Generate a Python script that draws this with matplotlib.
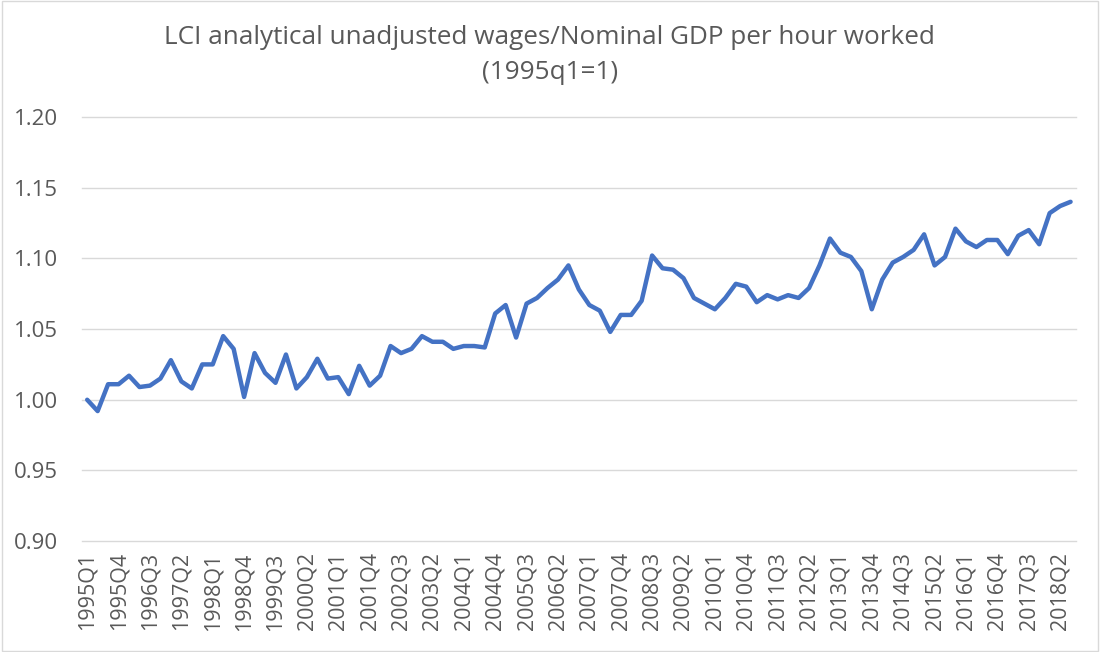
import matplotlib.pyplot as plt
from matplotlib.patches import Rectangle

# quarterly series, 1995Q1 .. 2018Q3 (1995q1 = 1)
years = list(range(1995, 2019))
ratio = [
    1.000, 0.992, 1.011, 1.011, 1.017, 1.009, 1.010, 1.015, 1.028, 1.013,
    1.008, 1.025, 1.025, 1.045, 1.036, 1.002, 1.033, 1.019, 1.012, 1.032,
    1.008, 1.016, 1.029, 1.015, 1.016, 1.004, 1.024, 1.010, 1.017, 1.038,
    1.033, 1.036, 1.045, 1.041, 1.041, 1.036, 1.038, 1.038, 1.037, 1.061,
    1.067, 1.044, 1.068, 1.072, 1.079, 1.085, 1.095, 1.078, 1.067, 1.063,
    1.048, 1.060, 1.060, 1.070, 1.102, 1.093, 1.092, 1.086, 1.072, 1.068,
    1.064, 1.072, 1.082, 1.080, 1.069, 1.074, 1.071, 1.074, 1.072, 1.079,
    1.095, 1.114, 1.104, 1.101, 1.091, 1.064, 1.085, 1.097, 1.101, 1.106,
    1.117, 1.095, 1.101, 1.121, 1.112, 1.108, 1.113, 1.113, 1.103, 1.116,
    1.120, 1.110, 1.132, 1.137, 1.140,
]
quarters = [f"{y}Q{q}" for y in years for q in range(1, 5)][: len(ratio)]
y_ticks = [0.90, 0.95, 1.00, 1.05, 1.10, 1.15, 1.20]

text_grey = "#595959"
grid_grey = "#D9D9D9"
line_blue = "#4472C4"
plt.rcParams["font.family"] = ["Open Sans", "DejaVu Sans"]

fig = plt.figure(figsize=(11, 6.52), dpi=100)
ax = fig.add_axes([0.0745, 0.170, 0.9035, 0.6506])

x = list(range(len(ratio)))
for yv in y_ticks:
    ax.axhline(yv, color=grid_grey, lw=1.0, zorder=1, clip_on=False)
ax.plot(x, ratio, color=line_blue, lw=3.2, solid_joinstyle="round",
        solid_capstyle="round", zorder=3)

ax.set_xlim(-0.5, len(ratio) - 0.5)
ax.set_ylim(0.90, 1.20)
ax.set_yticks(y_ticks)
ax.set_yticklabels([f"{v:.2f}" for v in y_ticks], fontsize=16, color=text_grey)
ax.set_xticks(x[::3])
ax.set_xticklabels(quarters[::3], rotation=90, fontsize=15.5, color=text_grey)
ax.tick_params(axis="both", length=0)
ax.tick_params(axis="y", pad=17)
ax.tick_params(axis="x", pad=8)
for s in ax.spines.values():
    s.set_visible(False)

fig.text(0.5, 0.943, "LCI analytical unadjusted wages/Nominal GDP per hour worked",
         ha="center", va="center", fontsize=18.8, color=text_grey)
fig.text(0.5, 0.889, "(1995q1=1)", ha="center", va="center",
         fontsize=18.8, color=text_grey)

fig.patches.append(Rectangle((0.002, 0.002), 0.996, 0.996, transform=fig.transFigure,
                             fill=False, edgecolor=grid_grey, lw=1.0))

fig.savefig("out.png", dpi=100)
